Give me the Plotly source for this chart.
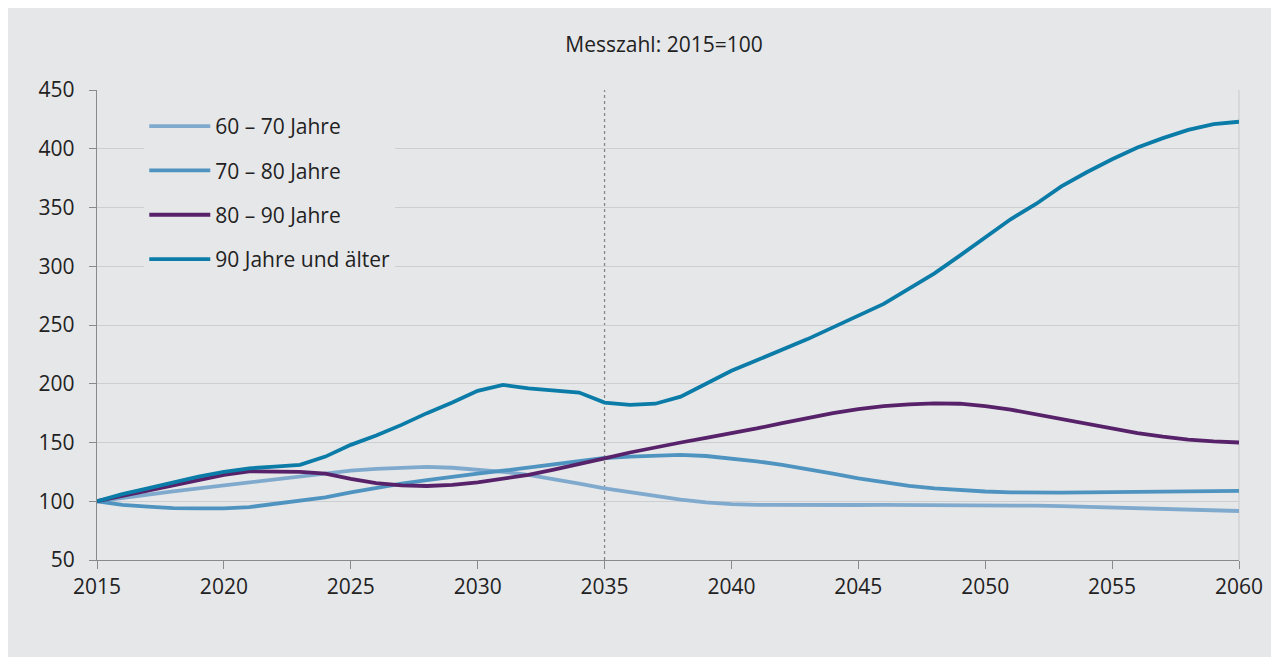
import plotly.graph_objects as go

years = list(range(2015, 2061))

age_60_70 = [100, 103, 106, 108.5, 111, 113.5, 116, 118.5, 121, 123.5,
             126, 127.5, 128.7, 129.2, 128.5, 127, 125, 122.5, 119, 115,
             111, 107.5, 104, 101.3, 99, 97.5, 97, 96.8, 96.8, 96.8,
             96.8, 96.9, 96.9, 96.9, 96.8, 96.8, 96.5, 96.2, 95.8, 95.3,
             94.8, 94.2, 93.6, 93, 92.4, 91.7]

age_70_80 = [100, 97, 95.5, 94.2, 94, 94, 95, 97.5, 100.5, 103.3,
             107.5, 111.5, 115, 118, 121, 123.5, 126, 128.5, 131.5, 134,
             136.8, 138, 139, 139.4, 138.5, 136.5, 134, 131, 127.5, 123.5,
             119.5, 116, 113, 111, 109.5, 108.3, 107.5, 107.2, 107.3, 107.5,
             107.8, 108, 108.3, 108.5, 108.7, 108.8]

age_80_90 = [100, 104.5, 109, 113.5, 118, 122.5, 125.5, 125.5, 125, 123.5,
             119, 115.5, 113.5, 113, 114, 116, 119, 122.5, 127, 131.5,
             136.5, 141.5, 146, 150, 154, 157.8, 162, 166.5, 171, 175,
             178.5, 181, 182.5, 183.3, 183, 181, 178, 174, 170, 166,
             162, 158, 155, 152.5, 151, 150]

age_90_plus = [100, 106, 111, 116, 121, 125, 128, 129.5, 131, 138,
               148, 156, 165, 175, 184, 194, 199, 196, 194, 192.5,
               184, 182, 183, 189, 200, 211, 220, 229, 238, 248,
               258, 268, 281, 294, 309, 325, 340, 353, 368, 380,
               391, 401, 409, 416, 421, 423]

series_names = ["60 – 70 Jahre", "70 – 80 Jahre", "80 – 90 Jahre", "90 Jahre und älter"]
series_values = [age_60_70, age_70_80, age_80_90, age_90_plus]
series_colors = ["#80aacd", "#4f94c0", "#57226a", "#0b7ba7"]

projection_start = 2035
x_ticks = [2015, 2020, 2025, 2030, 2035, 2040, 2045, 2050, 2055, 2060]
y_ticks = [50, 100, 150, 200, 250, 300, 350, 400, 450]
subtitle = "Messzahl: 2015=100"

bg = "#e6e7e9"
font_family = "Open Sans, Noto Sans, sans-serif"

fig = go.Figure()
for name, vals, col in zip(series_names, series_values, series_colors):
    fig.add_trace(go.Scatter(
        x=years, y=vals, name=name, mode="lines",
        line=dict(color=col, width=3.8),
        legendgroup=name,
    ))

fig.add_shape(type="line", xref="x", yref="paper", x0=projection_start, x1=projection_start,
              y0=0, y1=1, line=dict(color="#888888", width=1.3, dash="dot"), layer="below")
fig.add_shape(type="line", xref="paper", yref="paper", x0=1, x1=1, y0=0, y1=1,
              line=dict(color="#cdced1", width=1.2), layer="below")

fig.update_layout(
    width=1279, height=657,
    paper_bgcolor=bg, plot_bgcolor=bg,
    margin=dict(l=89, r=48, t=82, b=105),
    font=dict(family=font_family, size=20, color="#222222"),
    title=dict(text=subtitle, x=(656 / 1279), xanchor="center", y=1 - 37 / 657, yanchor="middle",
               font=dict(size=21, color="#222222")),
    showlegend=True,
    legend=dict(x=0.0414, y=0.966, xanchor="left", yanchor="top", bgcolor=bg,
                font=dict(size=21, color="#222222"), tracegroupgap=14,
                itemwidth=61),
    xaxis=dict(range=[2015, 2060], tickvals=x_ticks, showgrid=False, zeroline=False,
               showline=True, linecolor="#8a8a8a", linewidth=1.3,
               ticks="outside", ticklen=8, tickcolor="#8a8a8a", tickwidth=1.3,
               tickfont=dict(size=21, color="#222222")),
    yaxis=dict(range=[50, 450], tickvals=y_ticks, showgrid=True, gridcolor="#cdced1",
               gridwidth=1.2, zeroline=False,
               showline=True, linecolor="#8a8a8a", linewidth=1.3,
               ticks="outside", ticklen=7, tickcolor="#8a8a8a", tickwidth=1.3,
               ticklabelstandoff=10,
               tickfont=dict(size=21, color="#222222")),
)

fig.write_html("out.html")
